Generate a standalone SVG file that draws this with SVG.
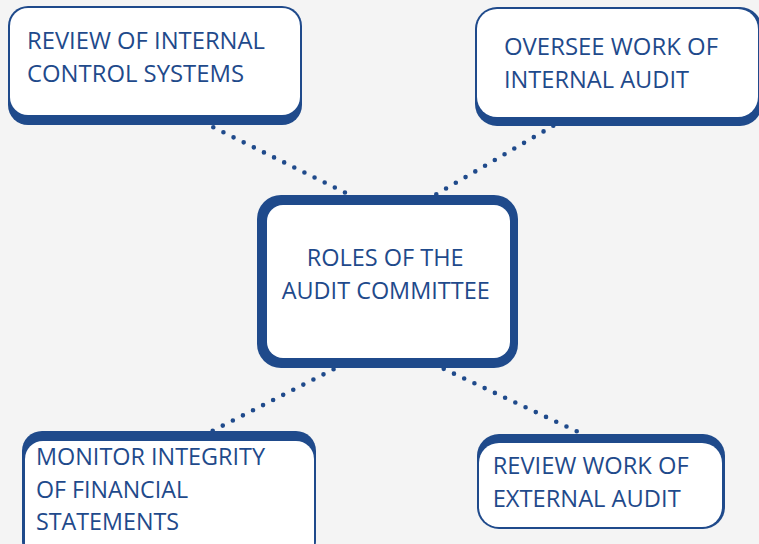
<svg xmlns="http://www.w3.org/2000/svg" width="759" height="544" viewBox="0 0 759 544">
<style>
.bg{fill:#f4f4f4}
.edge{fill:#1f4a8b}
.face{fill:#ffffff}
.t{font-family:"Open Sans","Noto Sans","Liberation Sans",sans-serif;font-size:24.5px;fill:#1f4a8b}
.dots{stroke:#1f4a8b;stroke-width:4.6;stroke-linecap:round;fill:none;stroke-dasharray:0 11.3}
</style>
<rect class="bg" x="0" y="0" width="759" height="544"/>
<g id="connectors">
<line class="dots" x1="213.3" y1="127.3" x2="356" y2="198"/>
<line class="dots" x1="553.3" y1="125.7" x2="427" y2="199.7"/>
<line class="dots" x1="212.7" y1="430.7" x2="343.4" y2="364.2"/>
<line class="dots" x1="576.7" y1="431.3" x2="434" y2="364.3"/>
</g>
<g id="node-review-internal-control">
<rect class="edge" x="8" y="6" width="294" height="119" rx="20"/>
<rect class="face" x="10" y="8" width="290" height="107" rx="18"/>
<text class="t" x="27" y="48.5" textLength="238" lengthAdjust="spacingAndGlyphs">REVIEW OF INTERNAL</text>
<text class="t" x="27" y="82" textLength="217" lengthAdjust="spacingAndGlyphs">CONTROL SYSTEMS</text>
</g>
<g id="node-oversee-internal-audit">
<rect class="edge" x="475" y="7" width="287" height="119" rx="22"/>
<rect class="face" x="477" y="9" width="281" height="108" rx="20"/>
<text class="t" x="504" y="55" textLength="214" lengthAdjust="spacingAndGlyphs">OVERSEE WORK OF</text>
<text class="t" x="504" y="88" textLength="185" lengthAdjust="spacingAndGlyphs">INTERNAL AUDIT</text>
</g>
<g id="node-roles">
<rect class="edge" x="257" y="195" width="261" height="173" rx="24"/>
<rect class="face" x="267" y="205" width="243" height="153" rx="16"/>
<text class="t" x="306.7" y="266" textLength="157" lengthAdjust="spacingAndGlyphs">ROLES OF THE</text>
<text class="t" x="281.7" y="299" textLength="208" lengthAdjust="spacingAndGlyphs">AUDIT COMMITTEE</text>
</g>
<g id="node-monitor-integrity">
<rect class="edge" x="22" y="431" width="294" height="130" rx="20"/>
<rect class="face" x="25" y="441" width="289" height="120" rx="18"/>
<text class="t" x="36" y="465" textLength="229" lengthAdjust="spacingAndGlyphs">MONITOR INTEGRITY</text>
<text class="t" x="36" y="497.5" textLength="152" lengthAdjust="spacingAndGlyphs">OF FINANCIAL</text>
<text class="t" x="36" y="530" textLength="143" lengthAdjust="spacingAndGlyphs">STATEMENTS</text>
</g>
<g id="node-review-external-audit">
<rect class="edge" x="477" y="434" width="248" height="95" rx="22"/>
<rect class="face" x="479" y="443" width="243" height="84" rx="20"/>
<text class="t" x="492.7" y="474" textLength="196" lengthAdjust="spacingAndGlyphs">REVIEW WORK OF</text>
<text class="t" x="492.7" y="507" textLength="188" lengthAdjust="spacingAndGlyphs">EXTERNAL AUDIT</text>
</g>
</svg>
